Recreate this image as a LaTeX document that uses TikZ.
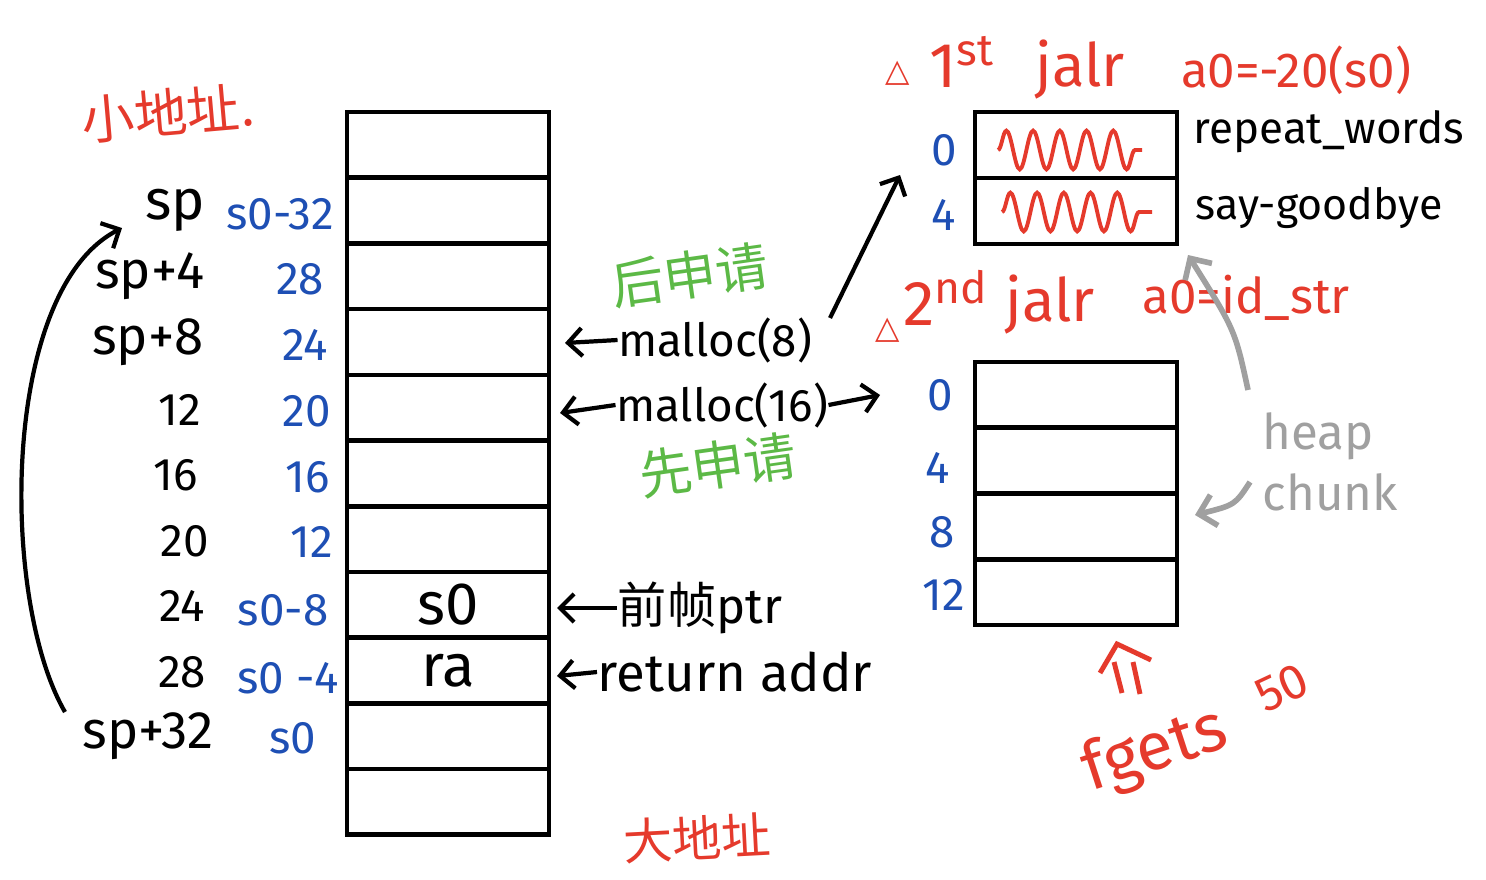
\documentclass[tikz,border=0pt]{standalone}
\usepackage{fontspec}
\setmainfont{Fira Sans}
\newfontfamily\cjk{Noto Sans CJK SC}
\newfontfamily\dejavu{DejaVu Sans}
\usetikzlibrary{arrows.meta,decorations.pathmorphing}
\definecolor{hred}{HTML}{E53A2C}
\definecolor{hblue}{HTML}{1E4FB4}
\definecolor{hgreen}{HTML}{5CB946}
\definecolor{hgray}{HTML}{A0A0A0}
\begin{document}
\begin{tikzpicture}[x=0.01cm,y=-0.01cm,
  cell/.style={draw, line width=1.3pt, minimum width=2.02cm, minimum height=0.657cm, inner sep=0pt, outer sep=0pt},
  lab/.style={inner sep=0pt, font=\fontsize{13}{15}\selectfont},
  blab/.style={lab, text=hblue},
  rlab/.style={inner sep=0pt, text=hred},
  glab/.style={inner sep=0pt, text=hgreen, font=\cjk\fontsize{15}{17}\selectfont},
  arr/.style={line width=1.2pt, -{Straight Barb[length=4pt,width=8pt]}},
  garr/.style={hgray, line width=1.6pt, -{Straight Barb[length=4.5pt,width=9pt]}},
  squig/.style={hred, line width=1.1pt, decorate, decoration={snake, segment length=7.6pt, amplitude=5.5pt}}
]
\useasboundingbox (0,0) rectangle (1486,879);
\fill[white] (0,0) rectangle (1486,879);

% stack
\foreach \i in {1,...,11} {
  \node[cell] (s\i) at (448,{112+65.7*(\i-0.5)}) {};
}
\node[inner sep=0pt, font=\fontsize{17}{19}\selectfont] (vs0) at (s8.center) {s0};
\node[inner sep=0pt, font=\fontsize{17}{19}\selectfont] (vra) at (s9.center) {ra};

% left labels
\node[lab, font=\fontsize{16}{18}\selectfont] (sp) at (175,210) {sp};
\node[lab, font=\fontsize{15}{17}\selectfont] (sp4) at (150,276) {sp+4};
\node[lab, font=\fontsize{15}{17}\selectfont] (sp8) at (148,342) {sp+8};
\node[lab] (o12) at (180,410) {12};
\node[lab] (o16) at (176,475) {16};
\node[lab] (o20) at (185,541) {20};
\node[lab] (o24) at (182,606) {24};
\node[lab] (o28) at (182,672) {28};
\node[lab, font=\fontsize{15}{17}\selectfont] (sp32) at (148,736) {sp+32};

\node[blab] (b1) at (280,214) {s0-32};
\node[blab] (b2) at (300,279) {28};
\node[blab] (b3) at (305,345) {24};
\node[blab] (b4) at (307,411) {20};
\node[blab] (b5) at (308,477) {16};
\node[blab] (b6) at (312,542) {12};
\node[blab] (b7) at (283,610) {s0-8};
\node[blab] (b8) at (288,678) {s0 -4};
\node[blab] (b9) at (293,738) {s0};

% left curved arrow
\coordinate (cstart) at (65,712);
\coordinate (cend) at (122,228);
\draw[arr] (cstart) .. controls (0,600) and (0,290) .. (cend);

% address notes
\node[rlab, rotate=5, font=\cjk\fontsize{15}{17}\selectfont] (small) at (168,113) {小地址.};
\node[rlab, rotate=3, font=\cjk\fontsize{14}{16}\selectfont] (big) at (697,838) {大地址};

% malloc labels
\node[lab] (m8) at (715,340) {malloc(8)};
\coordinate (m8tip) at (565,343);
\draw[arr] (m8.west) -- (m8tip);
\node[lab] (m16) at (722,405) {malloc(16)};
\coordinate (m16l) at (560,413);
\coordinate (m16r) at (880,395);
\draw[arr] (m16.west) -- (m16l);
\draw[arr] (m16.east) -- (m16r);
\node[glab, rotate=8] (later) at (690,275) {后申请};
\node[glab, rotate=8] (first) at (718,465) {先申请};
\coordinate (m8s) at (830,318);
\coordinate (m8e) at (900,175);
\draw[arr] (m8s) -- (m8e);

\node[lab, font=\fontsize{14}{16}\selectfont] (ptr) at (700,608) {{\cjk 前帧}ptr};
\coordinate (ptrtip) at (557,608);
\draw[arr] (ptr.west) -- (ptrtip);
\node[lab, font=\fontsize{15}{17}\selectfont] (ret) at (735,672) {return addr};
\coordinate (rettip) at (557,676);
\draw[arr] (ret.west) -- (rettip);

% heap top
\node[cell] (h1) at (1076,145) {};
\node[cell] (h2) at (1076,211) {};
\draw[squig] (998,150) -- (1142,150);
\draw[squig] (1002,212) -- (1152,212);
\node[blab] (hz0) at (944,150) {0};
\node[blab] (hz4) at (944,215) {4};
\node[lab, anchor=west, font=\fontsize{12.5}{15}\selectfont] (rw) at (1193,132) {repeat\_words};
\node[lab, anchor=west, font=\fontsize{12.2}{15}\selectfont] (sg) at (1195,208) {say-goodbye};

% jalr notes
\node[rlab, font=\dejavu\fontsize{9}{10}\selectfont] (t1) at (898,73) {△};
\node[rlab, font=\fontsize{18}{20}\selectfont] (n1) at (962,62) {1\textsuperscript{st}};
\node[rlab, font=\fontsize{17}{19}\selectfont] (j1) at (1080,70) {jalr};
\node[rlab, font=\fontsize{14}{16}\selectfont] (a1) at (1296,70) {a0=-20(s0)};
\node[rlab, font=\dejavu\fontsize{9}{10}\selectfont] (t2) at (888,330) {△};
\node[rlab, font=\fontsize{18}{20}\selectfont] (n2) at (946,298) {2\textsuperscript{nd}};
\node[rlab, font=\fontsize{17}{19}\selectfont] (j2) at (1050,305) {jalr};
\node[rlab, font=\fontsize{14}{16}\selectfont] (a2) at (1246,298) {a0=id\_str};

% heap bottom
\foreach \i in {1,...,4} {
  \node[cell] (c\i) at (1076,{362+65.75*(\i-0.5)}) {};
}
\node[blab] (cz0) at (940,395) {0};
\node[blab] (cz4) at (938,468) {4};
\node[blab] (cz8) at (942,532) {8};
\node[blab] (cz12) at (944,595) {12};

% heap chunk
\node[inner sep=0pt, anchor=west, text=hgray, align=left, font=\fontsize{14}{17.5}\selectfont] (hc) at (1262,462) {heap\\chunk};
\coordinate (g1s) at (1248,390);
\coordinate (g1e) at (1188,255);
\draw[garr] (g1s) .. controls (1235,330) .. (g1e);
\coordinate (g2s) at (1250,482);
\coordinate (g2e) at (1195,515);
\draw[garr] (g2s) .. controls (1235,505) .. (g2e);

% fgets
\coordinate (da) at (1117,644);
\draw[hred, line width=1.4pt] (1100,673) -- (da) -- (1151,660);
\draw[hred, line width=1.4pt] (1114,662) -- (1122,693);
\draw[hred, line width=1.4pt] (1133,662) -- (1140,694);
\node[rlab, rotate=18, font=\fontsize{19}{21}\selectfont] (fg) at (1155,752) {fgets};
\node[rlab, rotate=25, font=\fontsize{14}{16}\selectfont] (fifty) at (1282,688) {50};
\end{tikzpicture}
\end{document}
